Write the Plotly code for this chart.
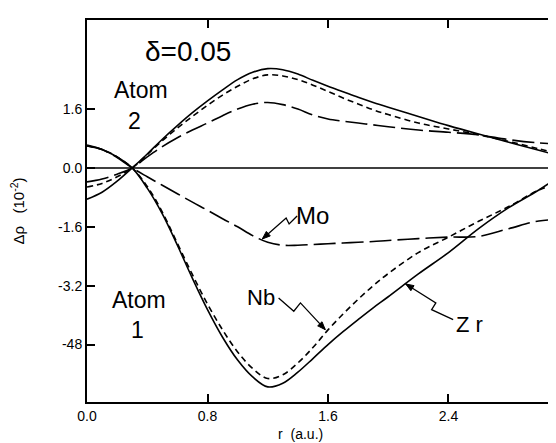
import math
import plotly.graph_objects as go

# radial distance r (a.u.)
r = [0, 0.1, 0.2, 0.3, 0.4, 0.5, 0.6, 0.7, 0.8, 0.9, 1.0, 1.1, 1.2, 1.3, 1.4, 1.5,
     1.6, 1.7, 1.8, 1.9, 2.0, 2.2, 2.4, 2.6, 2.8, 3.0, 3.16]

# Atom 1 (lower curves), delta rho in 10^-2
zr_atom1 = [0.6, 0.5, 0.3, 0.0, -0.55, -1.25, -2.1, -3.0, -3.85, -4.6, -5.22, -5.68, -5.95, -5.85,
            -5.55, -5.18, -4.8, -4.45, -4.12, -3.8, -3.5, -2.88, -2.3, -1.65, -1.08, -0.6, -0.16]
nb_atom1 = [0.6, 0.5, 0.3, 0.0, -0.5, -1.2, -2.05, -2.9, -3.7, -4.4, -5.0, -5.45, -5.72, -5.62,
            -5.3, -4.88, -4.4, -3.97, -3.57, -3.2, -2.87, -2.3, -1.88, -1.45, -1.05, -0.6, -0.38]
mo_atom1 = [0.62, 0.5, 0.28, 0.0, -0.24, -0.47, -0.7, -0.93, -1.15, -1.38, -1.6, -1.84, -2.02, -2.1,
            -2.1, -2.08, -2.06, -2.04, -2.02, -2.0, -1.97, -1.92, -1.88, -1.86, -1.65, -1.44, -1.4]

# Atom 2 (upper curves)
zr_atom2 = [-0.85, -0.66, -0.36, 0.0, 0.38, 0.78, 1.15, 1.5, 1.82, 2.12, 2.4, 2.6, 2.7, 2.67,
            2.55, 2.38, 2.22, 2.07, 1.92, 1.78, 1.65, 1.4, 1.15, 0.92, 0.7, 0.48, 0.3]
nb_atom2 = [-0.52, -0.42, -0.24, 0.0, 0.36, 0.74, 1.08, 1.4, 1.7, 1.98, 2.22, 2.42, 2.53, 2.5,
            2.4, 2.25, 2.08, 1.9, 1.74, 1.58, 1.45, 1.22, 1.06, 0.9, 0.72, 0.52, 0.35]
mo_atom2 = [-0.38, -0.3, -0.17, 0.0, 0.3, 0.58, 0.82, 1.03, 1.22, 1.42, 1.6, 1.73, 1.78, 1.72,
            1.6, 1.44, 1.33, 1.27, 1.22, 1.17, 1.12, 1.03, 0.97, 0.9, 0.77, 0.68, 0.65]

x_ticks = [0, 0.8, 1.6, 2.4]
x_ticktext = ["0.0", "0.8", "1.6", "2.4"]
y_ticks = [1.6, 0, -1.6, -3.2, -4.8]
y_ticktext = ["1.6", "0.0", "-1.6", "-3.2", "-48"]

X_RANGE = [0, 3.147]
Y_RANGE = [-6.36, 4.02]
W, H = 556, 443
M = dict(l=79, r=1, t=12, b=49)

FONT = "Liberation Sans, Arial, sans-serif"
styles = {
    "Zr": dict(color="black", width=1.6, dash="solid"),
    "Nb": dict(color="black", width=1.6, dash="6px,4px"),
    "Mo": dict(color="black", width=1.6, dash="22px,6px"),
}

fig = go.Figure()
for name, ys in [("Zr", zr_atom1), ("Nb", nb_atom1), ("Mo", mo_atom1),
                 ("Zr", zr_atom2), ("Nb", nb_atom2), ("Mo", mo_atom2)]:
    fig.add_trace(go.Scatter(x=r, y=ys, mode="lines", line=dict(shape="spline", **styles[name]),
                             showlegend=False, hoverinfo="skip"))

# zero line
fig.add_hline(y=0, line=dict(color="black", width=1.5))

axis_common = dict(showline=True, linecolor="black", linewidth=2, mirror="allticks",
                   ticks="inside", ticklen=8, tickwidth=2, tickcolor="black",
                   showgrid=False, zeroline=False,
                   tickfont=dict(family=FONT, size=14, color="black"))
fig.update_xaxes(range=X_RANGE, tickvals=x_ticks, ticktext=x_ticktext,
                 title=dict(text="r  (a.u.)" + "&nbsp;" * 12, standoff=6,
                            font=dict(family=FONT, size=14, color="black")),
                 **axis_common)
fig.update_yaxes(range=Y_RANGE, tickvals=y_ticks, ticktext=y_ticktext,
                 title=dict(text="Δρ   (10<sup>-2</sup>)", standoff=30,
                            font=dict(family=FONT, size=15, color="black")),
                 **axis_common)

# pixel scale of data units (for drawing arrowheads with the right proportions)
sx = (W - M["l"] - M["r"]) / (X_RANGE[1] - X_RANGE[0])
sy = (H - M["t"] - M["b"]) / (Y_RANGE[1] - Y_RANGE[0])

# leader lines (zigzag) for curve labels; last point is the arrow tip
leaders = {
    "Mo": [(1.395, -1.304), (1.342, -1.522), (1.322, -1.359), (1.164, -1.929)],
    "Nb": [(1.272, -3.533), (1.373, -3.894), (1.417, -3.668), (1.582, -4.394)],
    "Zr": [(2.431, -4.122), (2.288, -3.851), (2.316, -3.668), (2.116, -3.152)],
}
for pts in leaders.values():
    path = "M " + " L ".join(f"{x},{y}" for x, y in pts)
    fig.add_shape(type="path", path=path, xref="x", yref="y",
                  line=dict(color="black", width=1.3))
    (x0, y0), (x1, y1) = pts[-2], pts[-1]
    dx, dy = (x1 - x0) * sx, (y1 - y0) * sy
    L = math.hypot(dx, dy)
    ux, uy = dx / L, dy / L
    alen, aw = 8.0, 3.0
    bx, by = -ux * alen, -uy * alen
    px_, py_ = -uy * aw, ux * aw
    p1 = (x1 + (bx + px_) / sx, y1 + (by + py_) / sy)
    p2 = (x1 + (bx - px_) / sx, y1 + (by - py_) / sy)
    tri = f"M {x1},{y1} L {p1[0]},{p1[1]} L {p2[0]},{p2[1]} Z"
    fig.add_shape(type="path", path=tri, xref="x", yref="y",
                  line=dict(color="black", width=1), fillcolor="black")

labels = [
    ("Mo", 1.494, -1.304, 24),
    ("Nb", 1.157, -3.533, 22),
    ("Z r", 2.539, -4.266, 22),
    ("Atom", 0.357, 2.12, 23),
    ("2", 0.317, 1.277, 23),
    ("Atom", 0.344, -3.587, 23),
    ("1", 0.337, -4.402, 23),
    ("δ=0.05", 0.668, 3.152, 28),
]
for txt, x, y, s in labels:
    fig.add_annotation(x=x, y=y, xref="x", yref="y", text=txt, showarrow=False,
                       font=dict(family=FONT, size=s, color="black"))

fig.update_layout(width=W, height=H, margin=M,
                  plot_bgcolor="white", paper_bgcolor="white")

fig.write_html("out.html")
